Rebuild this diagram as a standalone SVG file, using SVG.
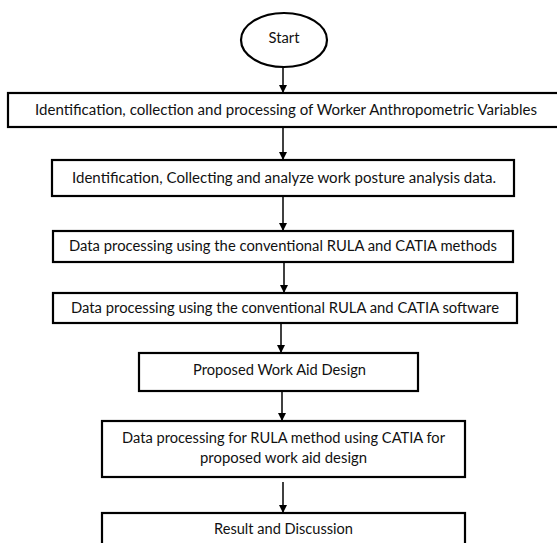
<svg xmlns="http://www.w3.org/2000/svg" width="557" height="543" viewBox="0 0 557 543">
<style>
.box{fill:#fff;stroke:#000;stroke-width:2.2}
.t{font-family:Lato,"Liberation Sans",sans-serif;font-size:14.5px;fill:#111;text-anchor:middle}
.c{stroke:#000;stroke-width:1.5;fill:none;marker-end:url(#ah)}
</style>
<defs>
<marker id="ah" viewBox="0 0 10 10" refX="10" refY="5" markerWidth="8" markerHeight="8" markerUnits="userSpaceOnUse" orient="auto">
<path d="M0,0 L10,5 L0,10 z" fill="#000"/>
</marker>
</defs>
<rect width="557" height="543" fill="#fff"/>
<g id="connectors">
<line class="c" x1="283" y1="67" x2="283" y2="93"/>
<line class="c" x1="283" y1="127" x2="283" y2="160"/>
<line class="c" x1="283" y1="196" x2="283" y2="231"/>
<line class="c" x1="284" y1="262" x2="284" y2="293"/>
<line class="c" x1="281" y1="323" x2="281" y2="353"/>
<line class="c" x1="282" y1="391" x2="282" y2="421"/>
<line class="c" x1="283" y1="482" x2="283" y2="513"/>
</g>
<g id="start">
<ellipse class="box" cx="284" cy="40" rx="43" ry="27"/>
<text class="t" x="284" y="43" textLength="31" lengthAdjust="spacingAndGlyphs">Start</text>
</g>
<g id="n1">
<rect class="box" x="8" y="93" width="560" height="34"/>
<text class="t" x="286" y="115" textLength="502" lengthAdjust="spacingAndGlyphs">Identification, collection and processing of Worker Anthropometric Variables</text>
</g>
<g id="n2">
<rect class="box" x="52" y="160" width="462" height="36"/>
<text class="t" x="284" y="183" textLength="424" lengthAdjust="spacingAndGlyphs">Identification, Collecting and analyze work posture analysis data.</text>
</g>
<g id="n3">
<rect class="box" x="53" y="231" width="460" height="31"/>
<text class="t" x="283" y="251" textLength="428" lengthAdjust="spacingAndGlyphs">Data processing using the conventional RULA and CATIA methods</text>
</g>
<g id="n4">
<rect class="box" x="53" y="293" width="464" height="30"/>
<text class="t" x="285" y="313" textLength="428" lengthAdjust="spacingAndGlyphs">Data processing using the conventional RULA and CATIA software</text>
</g>
<g id="n5">
<rect class="box" x="139" y="353" width="279" height="38"/>
<text class="t" x="279.5" y="375" textLength="173" lengthAdjust="spacingAndGlyphs">Proposed Work Aid Design</text>
</g>
<g id="n6">
<rect class="box" x="102" y="421" width="363" height="56"/>
<text class="t" x="283.5" y="443" textLength="323" lengthAdjust="spacingAndGlyphs">Data processing for RULA method using CATIA for</text>
<text class="t" x="283.5" y="463" textLength="167" lengthAdjust="spacingAndGlyphs">proposed work aid design</text>
</g>
<g id="n7">
<rect class="box" x="102" y="513" width="363" height="40"/>
<text class="t" x="283.5" y="534" textLength="139" lengthAdjust="spacingAndGlyphs">Result and Discussion</text>
</g>
</svg>
